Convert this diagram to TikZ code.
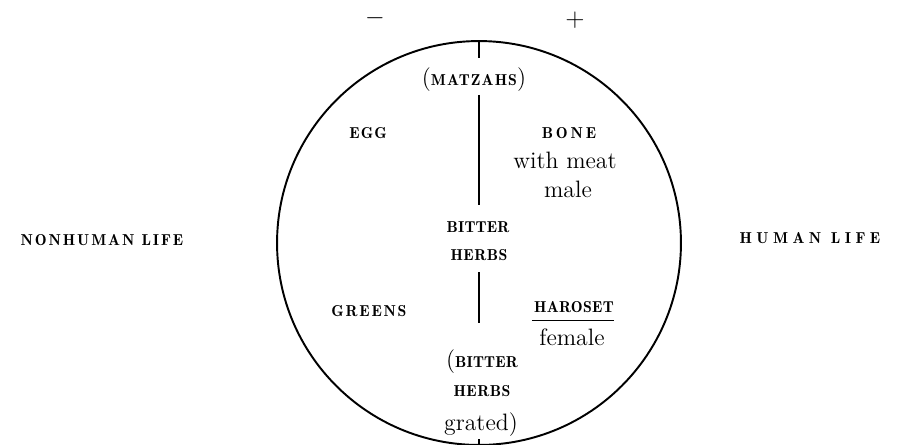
\documentclass[tikz,border=0pt]{standalone}
\usepackage{amsmath}
\usepackage{fontspec}
\usepackage{tikz}

%fuente de las versalitas
\newfontfamily\versal{lmromandemi10-regular.otf}
%versalitas chicas con espaciado entre letras
\newcommand{\mayus}[2][12]{{\versal\fontsize{9}{11}\selectfont\addfontfeatures{LetterSpace=#1}#2}}

\begin{document}
\begin{tikzpicture}[x=0.02cm,y=-0.02cm,
    texto/.style={inner sep=0pt,anchor=base,font=\fontsize{13.5}{16}\selectfont},
    raya/.style={line width=0.85pt}]
\useasboundingbox (0,0) rectangle (899,444);

%el plato
\node [draw,circle,line width=1.1pt,minimum size=8.08cm,inner sep=0pt] (plato) at (479,243) {};

%signos arriba
\node [texto] (menos) at (375,24) {$-$};
\node [texto] (mas) at (575,26) {$+$};

%lado izquierdo y derecho del plato
\node [texto] (matzahs) at (474,85) {(\mayus[7]{MATZAHS})};
\node [texto] (huevo) at (368,138) {\mayus[7]{EGG}};
\node [texto] (hueso) at (569,138) {\mayus[18]{BONE}};
\node [texto] (carne) at (565,168) {with meat};
\node [texto] (macho) at (568,197) {male};
\node [texto] (amargas) at (478,232) {\mayus[1]{BITTER}};
\node [texto] (hierbas) at (479,260) {\mayus[3]{HERBS}};
\node [texto] (verdes) at (369,316) {\mayus[11]{GREENS}};
\node [texto] (haroset) at (574,312) {\mayus[2]{HAROSET}};
\node [texto] (hembra) at (572,345) {female};
\node [texto] (amargas2) at (482,367) {(\mayus[1]{BITTER}};
\node [texto] (hierbas2) at (482,396) {\mayus[3]{HERBS}};
\node [texto] (rallado) at (481,430) {grated)};

%afuera del plato
\node [texto] (nohumano) at (102,245) {\mayus[12]{NONHUMAN LIFE}};
\node [texto] (humano) at (810,243) {\mayus[28]{HUMAN LIFE}};

%linea del medio
\draw [raya] (plato.north) -- ++(0,18);
\draw [raya,shorten <=2pt,shorten >=9pt] (plato.north |- matzahs.south) -- (plato.north |- amargas.north);
\draw [raya,shorten <=6.8pt,shorten >=14.7pt] (plato.north |- hierbas.south) -- (plato.north |- amargas2.north);
\draw [raya] (plato.south) -- ++(0,-7);

%subrayado
\draw [line width=0.6pt] ([xshift=-1pt,yshift=-5pt]haroset.base west) -- ([yshift=-5pt]haroset.base east);
\end{tikzpicture}
\end{document}
